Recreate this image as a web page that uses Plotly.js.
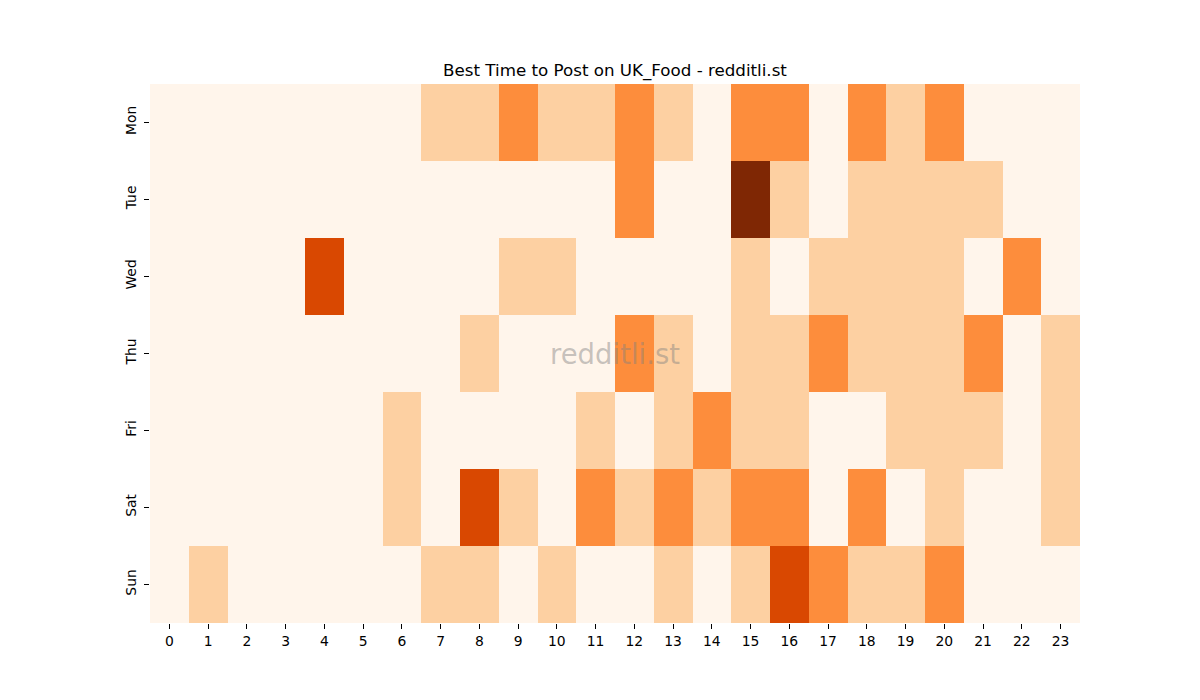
<!DOCTYPE html>
<html>
<head>
<meta charset="utf-8">
<script src="https://cdn.plot.ly/plotly-3.0.1.min.js"></script>
<style>
  html, body { margin: 0; padding: 0; background: #fff; }
  #chart { width: 1200px; height: 700px; }
</style>
</head>
<body>
<div id="chart"></div>
<script>
// hours of the day and weekdays
var hours = [0, 1, 2, 3, 4, 5, 6, 7, 8, 9, 10, 11, 12, 13, 14, 15, 16, 17, 18, 19, 20, 21, 22, 23]
var days = ['Mon', 'Tue', 'Wed', 'Thu', 'Fri', 'Sat', 'Sun']

// posting score per hour, one array per day
var mon = [0, 0, 0, 0, 0, 0, 0, 1, 1, 2, 1, 1, 2, 1, 0, 2, 2, 0, 2, 1, 2, 0, 0, 0]
var tue = [0, 0, 0, 0, 0, 0, 0, 0, 0, 0, 0, 0, 2, 0, 0, 4, 1, 0, 1, 1, 1, 1, 0, 0]
var wed = [0, 0, 0, 0, 3, 0, 0, 0, 0, 1, 1, 0, 0, 0, 0, 1, 0, 1, 1, 1, 1, 0, 2, 0]
var thu = [0, 0, 0, 0, 0, 0, 0, 0, 1, 0, 0, 0, 2, 1, 0, 1, 1, 2, 1, 1, 1, 2, 0, 1]
var fri = [0, 0, 0, 0, 0, 0, 1, 0, 0, 0, 0, 1, 0, 1, 2, 1, 1, 0, 0, 1, 1, 1, 0, 1]
var sat = [0, 0, 0, 0, 0, 0, 1, 0, 3, 1, 0, 2, 1, 2, 1, 2, 2, 0, 2, 0, 1, 0, 0, 1]
var sun = [0, 1, 0, 0, 0, 0, 0, 1, 1, 0, 1, 0, 0, 1, 0, 1, 3, 2, 1, 1, 2, 0, 0, 0]

// matplotlib "Oranges"
var oranges = [
    [0, '#fff5eb'], [0.125, '#fee6ce'], [0.25, '#fdd0a2'], [0.375, '#fdae6b'],
    [0.5, '#fd8d3c'], [0.625, '#f16913'], [0.75, '#d94801'], [0.875, '#a63603'], [1, '#7f2704']
]

var data = [{
    type: 'heatmap',
    x: hours,
    y: days,
    z: [mon, tue, wed, thu, fri, sat, sun],
    zmin: 0,
    zmax: 4,
    colorscale: oranges,
    showscale: false,
    xgap: 0,
    ygap: 0
}]

var layout = {
    width: 1200,
    height: 700,
    paper_bgcolor: '#fff',
    plot_bgcolor: '#fff',
    font: { family: 'DejaVu Sans', size: 14, color: '#000' },
    margin: { l: 150, r: 120, t: 84, b: 77 },
    title: {
        text: 'Best Time to Post on UK_Food - redditli.st',
        font: { family: 'DejaVu Sans', size: 16.7, color: '#000' },
        x: 0.5125, xanchor: 'center',
        y: 0.9, yref: 'container', yanchor: 'middle'
    },
    xaxis: {
        tickmode: 'array',
        tickvals: hours,
        ticktext: hours.map(String),
        ticks: 'outside',
        ticklen: 5,
        tickcolor: '#000',
        tickfont: { size: 13.9 },
        showgrid: false,
        zeroline: false,
        showline: false,
        range: [-0.5, 23.5]
    },
    yaxis: {
        autorange: 'reversed',
        ticks: 'outside',
        ticklen: 5,
        tickcolor: '#000',
        tickfont: { size: 13.9 },
        tickangle: -90,
        ticklabelstandoff: 2,
        showgrid: false,
        zeroline: false,
        showline: false
    },
    annotations: [{
        text: 'redditli.st',
        xref: 'paper', yref: 'paper',
        x: 0.5, y: 0.5,
        showarrow: false,
        font: { family: 'DejaVu Sans', size: 27.5, color: 'rgba(128,128,128,0.45)' }
    }]
}

Plotly.newPlot('chart', data, layout, { displayModeBar: false })
</script>
</body>
</html>
